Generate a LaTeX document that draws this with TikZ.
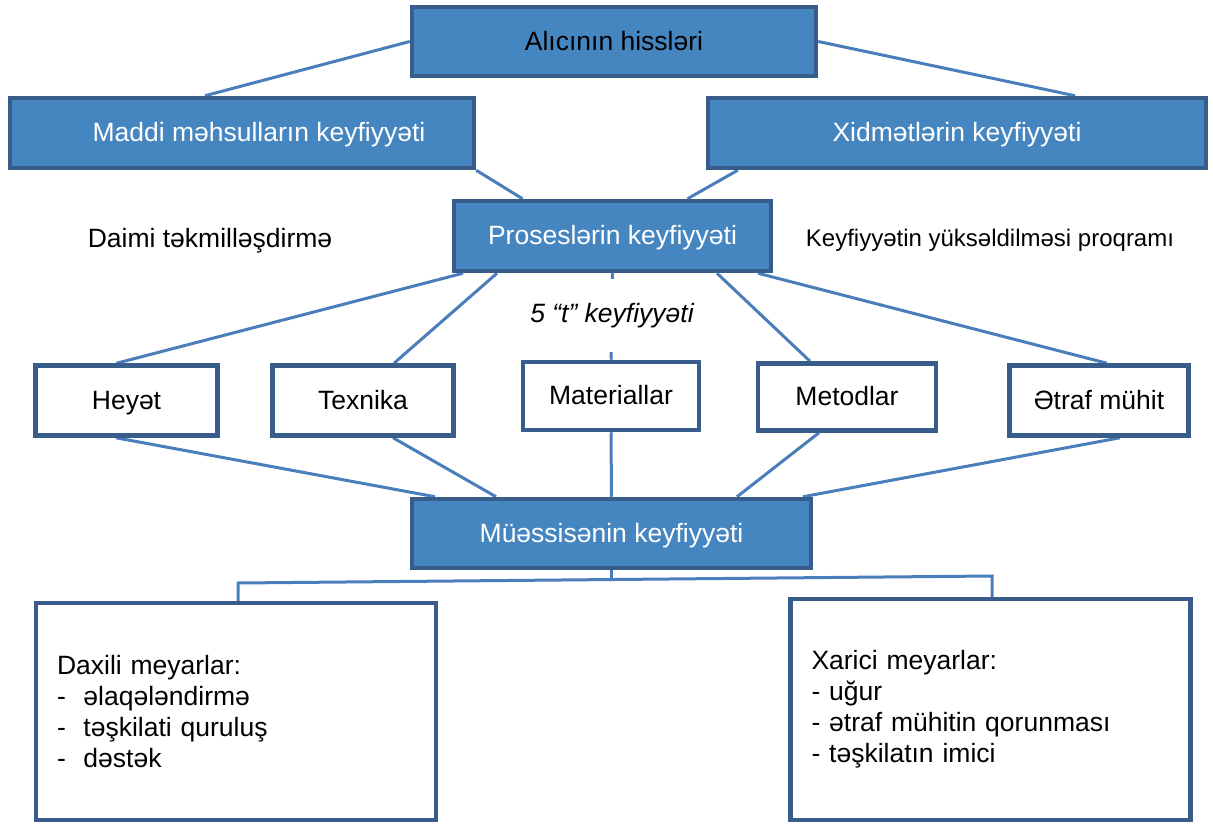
\documentclass[tikz,border=0pt]{standalone}
\usepackage{fontspec}
\setmainfont{Liberation Sans}
\usetikzlibrary{positioning,backgrounds}

\definecolor{boxfill}{RGB}{70,134,192}
\definecolor{boxedge}{RGB}{56,93,138}
\definecolor{linkblue}{RGB}{74,126,187}

\begin{document}
\begin{tikzpicture}[
                x=1pt, y=-1pt,
                font=\fontsize{26.5}{31}\selectfont,
                bluebox/.style={rectangle,draw=boxedge,fill=boxfill,line width=4.5pt,inner sep=0pt,text=white,text height=17.5pt,text depth=0pt},
                whitebox/.style={rectangle,draw=boxedge,fill=white,line width=4.5pt,inner sep=0pt,text height=17.5pt,text depth=0pt},
                listbox/.style={rectangle,draw=boxedge,fill=white,line width=4.5pt,align=left,inner xsep=21pt,text width=358pt},
                link/.style={draw=linkblue,line width=3pt}
            ]
                \useasboundingbox (0,0) rectangle (1213,826);
                % top level
                \node (alici) [bluebox,text=black,minimum width=404pt,minimum height=69pt] at (614,41.5) {Alıcının hissləri};
                \node (maddi) [bluebox,minimum width=464pt,minimum height=70pt] at (242,133) {\hspace*{34pt}Maddi məhsulların keyfiyyəti};
                \node (xidmet) [bluebox,minimum width=498pt,minimum height=70pt] at (957,133) {Xidmətlərin keyfiyyəti};
                \node (proses) [bluebox,minimum width=317pt,minimum height=70pt] at (612.5,236) {Proseslərin keyfiyyəti};
                \node (daimi) at (210,241) {Daimi təkmilləşdirmə};
                \node (proqram) [font=\fontsize{24}{29}\selectfont] at (990,240) {Keyfiyyətin yüksəldilməsi proqramı};
                % the five t
                \node (heyet) [whitebox,minimum width=182pt,minimum height=70pt] at (126.5,400.5) {Heyət};
                \node (texnika) [whitebox,minimum width=181pt,minimum height=70pt] at (363,400.5) {Texnika};
                \node (material) [whitebox,minimum width=176pt,minimum height=68pt] at (611,396) {Materiallar};
                \node (metod) [whitebox,minimum width=178pt,minimum height=67pt] at (847,397) {Metodlar};
                \node (etraf) [whitebox,minimum width=179pt,minimum height=70pt] at (1099,400.5) {Ətraf mühit};
                \node (muessise) [bluebox,minimum width=399pt,minimum height=69pt] at (611.5,533.5) {Müəssisənin keyfiyyəti};
                \node (daxili) [listbox,minimum width=400pt,minimum height=217pt] at (236,711.5) {Daxili meyarlar:\\- \ əlaqələndirmə\\- \ təşkilati quruluş\\- \ dəstək};
                \node (xarici) [listbox,minimum width=399pt,minimum height=221pt] at (990.5,709.5) {Xarici meyarlar:\\- uğur\\- ətraf mühitin qorunması\\- təşkilatın imici};
                \coordinate (busL) at (238,583);
                \coordinate (busR) at (992,576);
                \begin{scope}[on background layer]
                    \draw[link] (alici.west) -- ([xshift=-37pt]maddi.north);
                    \draw[link] (alici.east) -- ([xshift=118pt]xidmet.north);
                    \draw[link] (maddi.south east) -- ([xshift=-90pt]proses.north);
                    \draw[link] ([xshift=32pt]xidmet.south west) -- ([xshift=75pt]proses.north);
                    \draw[link] ([xshift=-149.5pt]proses.south) -- ([xshift=-10pt]heyet.north);
                    \draw[link] ([xshift=-115.5pt]proses.south) -- ([xshift=31pt]texnika.north);
                    \draw[link] (proses.south) -- (material.north);
                    \draw[link] ([xshift=104.5pt]proses.south) -- ([xshift=-37pt]metod.north);
                    \draw[link] ([xshift=145.5pt]proses.south) -- ([xshift=8pt]etraf.north);
                    \draw[link] ([xshift=-10.5pt]heyet.south) -- ([xshift=-176.5pt]muessise.north);
                    \draw[link] ([xshift=30pt]texnika.south) -- ([xshift=-115.5pt]muessise.north);
                    \draw[link] (material.south) -- (muessise.north);
                    \draw[link] ([xshift=-28pt]metod.south) -- ([xshift=125.5pt]muessise.north);
                    \draw[link] ([xshift=21pt]etraf.south) -- ([xshift=191.5pt]muessise.north);
                    \draw[link] (muessise.south) -- ++(0,10);
                    \draw[link] (daxili.north -| busL) -- (busL) -- (busR) -- (xarici.north -| busR);
                \end{scope}
                \node (bes) [fill=white,font=\fontsize{26.5}{31}\itshape,minimum width=180pt,minimum height=73pt] at (612,315.5) {5 “t” keyfiyyəti};
            \end{tikzpicture}
\end{document}
